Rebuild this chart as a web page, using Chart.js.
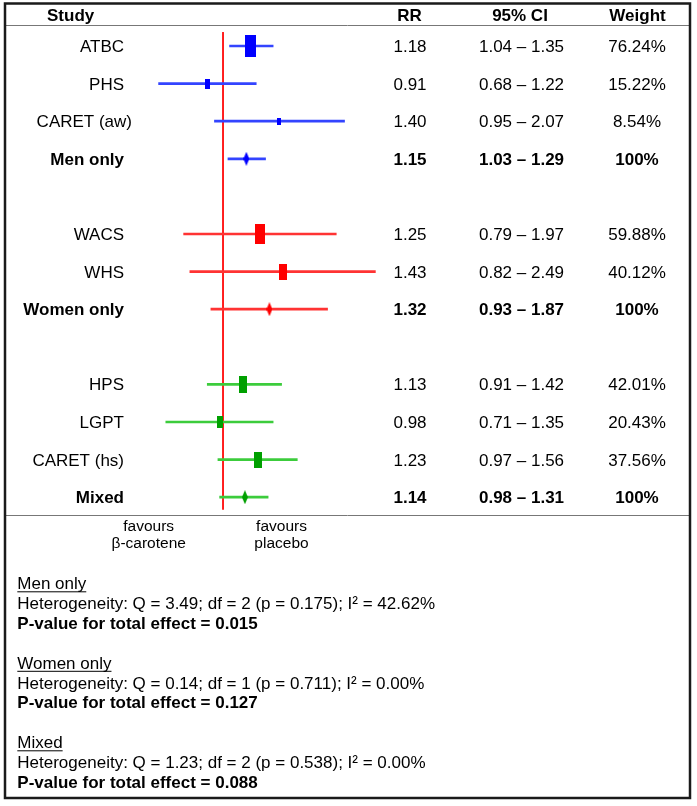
<!DOCTYPE html>
<html>
<head>
<meta charset="utf-8">
<script src="https://cdn.jsdelivr.net/npm/chart.js@4.4.1/dist/chart.umd.min.js"></script>
<style>
  body { margin: 0; background: #fff; }
  #forest { display: block; }
</style>
</head>
<body>
<canvas id="forest" width="697" height="806"></canvas>
<script>
// studies and pooled rows, top to bottom (rowIndex leaves a blank row between groups)
const studies = ['ATBC', 'PHS', 'CARET (aw)', 'Men only', 'WACS', 'WHS', 'Women only', 'HPS', 'LGPT', 'CARET (hs)', 'Mixed'];
const rowIndex = [0, 1, 2, 3, 5, 6, 7, 9, 10, 11, 12];
const rr = [1.18, 0.91, 1.40, 1.15, 1.25, 1.43, 1.32, 1.13, 0.98, 1.23, 1.14];
const ciLow = [1.04, 0.68, 0.95, 1.03, 0.79, 0.82, 0.93, 0.91, 0.71, 0.97, 0.98];
const ciHigh = [1.35, 1.22, 2.07, 1.29, 1.97, 2.49, 1.87, 1.42, 1.35, 1.56, 1.31];
const weights = [76.24, 15.22, 8.54, 100, 59.88, 40.12, 100, 42.01, 20.43, 37.56, 100];
const isPooled = [false, false, false, true, false, false, true, false, false, false, true];
const group = [0, 0, 0, 0, 1, 1, 1, 2, 2, 2, 2];

const groupNames = ['Men only', 'Women only', 'Mixed'];
const hetQ = ['3.49', '0.14', '1.23'];
const hetDf = ['2', '1', '2'];
const hetP = ['0.175', '0.711', '0.538'];
const hetI2 = ['42.62%', '0.00%', '0.00%'];
const pTotal = ['0.015', '0.127', '0.088'];

const boxColors = ['#0000ff', '#ff0000', '#00a000'];
const lineColors = ['#3344ff', '#ff3333', '#3ccc3c'];
const FONT = '"Liberation Sans", Arial, sans-serif';
// study labels end at x=124, the CARET (aw) label sits a little further right
const labelRight = name => (name === 'CARET (aw)' ? 132 : 124);

function boxImage(w, h, color) {
  const c = document.createElement('canvas');
  c.width = w; c.height = h;
  const g = c.getContext('2d');
  g.fillStyle = color;
  g.fillRect(0, 0, w, h);
  return c;
}

function diamondImage(w, h, color) {
  const c = document.createElement('canvas');
  c.width = w; c.height = h;
  const g = c.getContext('2d');
  g.fillStyle = color;
  g.beginPath();
  g.moveTo(w / 2, 0);
  g.lineTo(w, h / 2);
  g.lineTo(w / 2, h);
  g.lineTo(0, h / 2);
  g.closePath();
  g.fill();
  return c;
}

// box area follows the study weight
const markers = weights.map((w, i) => {
  const color = boxColors[group[i]];
  if (isPooled[i]) return diamondImage(6, 14, color);
  const s = Math.sqrt(w);
  return boxImage(Math.max(3, Math.round(1.3 * s)), Math.round(2.55 * s), color);
});

const tablePlugin = {
  id: 'forestTable',
  afterDraw(chart) {
    const ctx = chart.ctx;
    const ys = chart.scales.y;
    ctx.save();
    ctx.fillStyle = '#000';
    ctx.textBaseline = 'alphabetic';

    // header
    ctx.font = 'bold 17px ' + FONT;
    ctx.textAlign = 'left';
    ctx.fillText('Study', 47, 21);
    ctx.textAlign = 'center';
    ctx.fillText('RR', 409.5, 21);
    ctx.fillText('95% CI', 520, 21);
    ctx.fillText('Weight', 637.5, 21);

    // rows
    studies.forEach((name, i) => {
      const yy = ys.getPixelForValue(rowIndex[i]) + 6;
      ctx.font = (isPooled[i] ? 'bold ' : '') + '17px ' + FONT;
      ctx.textAlign = 'right';
      ctx.fillText(name, labelRight(name), yy);
      ctx.textAlign = 'center';
      ctx.fillText(rr[i].toFixed(2), 410, yy);
      ctx.fillText(ciLow[i].toFixed(2) + ' \u2013 ' + ciHigh[i].toFixed(2), 521.5, yy);
      ctx.fillText(isPooled[i] ? '100%' : weights[i].toFixed(2) + '%', 637, yy);
    });

    // rules
    ctx.strokeStyle = '#777';
    ctx.lineWidth = 1;
    ctx.beginPath();
    ctx.moveTo(5, 25.5); ctx.lineTo(690, 25.5);
    ctx.moveTo(5, 515.5); ctx.lineTo(690, 515.5);
    ctx.stroke();

    // favours labels
    ctx.font = '15.5px ' + FONT;
    ctx.textAlign = 'center';
    ctx.fillText('favours', 148.7, 531);
    ctx.fillText('\u03b2-carotene', 148.7, 548);
    ctx.fillText('favours', 281.5, 531);
    ctx.fillText('placebo', 281.5, 548);

    // heterogeneity notes
    ctx.textAlign = 'left';
    groupNames.forEach((g, k) => {
      const base = 589.3 + k * 79.5;
      ctx.font = '17px ' + FONT;
      ctx.fillText(g, 17.3, base);
      const w = ctx.measureText(g).width;
      ctx.strokeStyle = '#000';
      ctx.beginPath();
      ctx.moveTo(17.3, base + 2.5); ctx.lineTo(17.3 + w, base + 2.5);
      ctx.stroke();
      ctx.fillText('Heterogeneity: Q = ' + hetQ[k] + '; df = ' + hetDf[k] + ' (p = ' + hetP[k] + '); I\u00b2 = ' + hetI2[k], 17.3, base + 19.7);
      ctx.font = 'bold 17px ' + FONT;
      ctx.fillText('P-value for total effect = ' + pTotal[k], 17.3, base + 39.3);
    });

    // frame
    ctx.strokeStyle = '#1a1a1a';
    ctx.lineWidth = 2.5;
    ctx.strokeRect(5, 3.5, 685, 794.5);
    ctx.restore();
  }
};

new Chart(document.getElementById('forest'), {
  type: 'bar',
  data: {
    datasets: [
      {
        type: 'scatter',
        data: rr.map((v, i) => ({ x: v, y: rowIndex[i] })),
        pointStyle: markers,
        pointRadius: 6
      },
      {
        type: 'bar',
        indexAxis: 'y',
        data: ciLow.map((lo, i) => ({ x: [lo, ciHigh[i]], y: rowIndex[i] })),
        backgroundColor: group.map(g => lineColors[g]),
        borderWidth: 0,
        barThickness: 2
      },
      {
        type: 'line',
        data: [{ x: 1, y: -0.37 }, { x: 1, y: 12.33 }],
        borderColor: '#ff0000',
        borderWidth: 1,
        pointRadius: 0
      }
    ]
  },
  options: {
    indexAxis: 'y',
    responsive: false,
    animation: false,
    devicePixelRatio: 1,
    layout: { padding: { left: 107.25, right: 290.5, top: 27.2, bottom: 290 } },
    scales: {
      x: { type: 'logarithmic', min: 0.5, max: 3, display: false, offset: false, beginAtZero: false },
      y: { type: 'linear', min: -0.5, max: 12.5, reverse: true, display: false, offset: false }
    },
    plugins: {
      legend: { display: false },
      tooltip: { enabled: false }
    }
  },
  plugins: [tablePlugin]
});
</script>
</body>
</html>
